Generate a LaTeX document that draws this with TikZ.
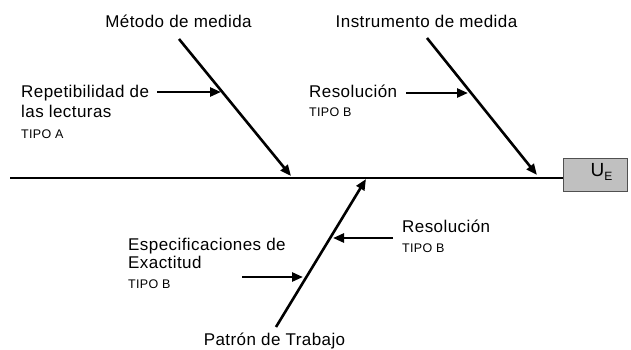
\documentclass[tikz,border=0pt]{standalone}
\usepackage{fontspec}
\setmainfont{Liberation Sans}[LetterSpace=2.5]
\usetikzlibrary{arrows.meta}
\definecolor{boxgray}{RGB}{192,192,192}
\definecolor{boxedge}{RGB}{80,80,80}
\begin{document}
\begin{tikzpicture}[x=1pt,y=-1pt,
  big/.style={inner sep=0pt, font=\fontsize{17}{20}\selectfont},
  small/.style={inner sep=0pt, font=\fontsize{12.5}{14}\selectfont},
  bone/.style={line width=2.6pt, -{Triangle[length=11pt,width=9pt]}},
  cause/.style={line width=2.6pt, -{Triangle[length=11pt,width=9pt]}},
  spine/.style={line width=2pt},
  effect/.style={draw=boxedge, fill=boxgray, line width=0.8pt, minimum width=64pt, minimum height=33pt, inner sep=0pt}]
\useasboundingbox (0,0) rectangle (631,349);
% effect box and spine
\node[effect] (box) at (595,174.5) {};
\node[inner sep=0pt, anchor=base west] (ue) at (590.5,176.5) {\fontsize{19}{20}\selectfont U\raisebox{-4pt}{\fontsize{12}{14}\selectfont E}};
\coordinate (tail) at (10,178);
\draw[spine] (tail) -- (box.west |- tail);
% main bones
\coordinate (m1) at (179,39);  \coordinate (m2) at (291,176);
\coordinate (i1) at (427,38);  \coordinate (i2) at (537,175);
\coordinate (p1) at (276,327); \coordinate (p2) at (366,179);
\draw[bone] (m1) -- (m2);
\draw[bone] (i1) -- (i2);
\draw[bone] (p1) -- (p2);
% bone labels
\node[big, anchor=base] (metodo) at (178.5,27) {Método de medida};
\node[big, anchor=base] (instr) at (426.5,27) {Instrumento de medida};
\node[big, anchor=base] (patron) at (274.5,345) {Patrón de Trabajo};
% causes
\node[big, anchor=base west] (rep1) at (21,97) {Repetibilidad de};
\node[big, anchor=base west] (rep2) at (21,117) {las lecturas};
\node[small, anchor=base west] (tipoA) at (21,138) {TIPO A};
\node[big, anchor=base west] (res1) at (309,97) {Resolución};
\node[small, anchor=base west] (tipoB1) at (309,116.5) {TIPO B};
\node[big, anchor=base west] (esp1) at (128,250) {Especificaciones de};
\node[big, anchor=base west] (esp2) at (128,268) {Exactitud};
\node[small, anchor=base west] (tipoB2) at (128,288) {TIPO B};
\node[big, anchor=base west] (res2) at (402,232) {Resolución};
\node[small, anchor=base west] (tipoB3) at (402,252) {TIPO B};
% cause arrows
\coordinate (r1) at (157,92);  \coordinate (r2) at (221,92);
\coordinate (s1) at (406,93);  \coordinate (s2) at (468,93);
\coordinate (e1) at (242,277); \coordinate (e2) at (303,277);
\coordinate (t1) at (393,238); \coordinate (t2) at (333,238);
\draw[cause] (r1) -- (r2);
\draw[cause] (s1) -- (s2);
\draw[cause] (e1) -- (e2);
\draw[cause] (t1) -- (t2);
\end{tikzpicture}
\end{document}
